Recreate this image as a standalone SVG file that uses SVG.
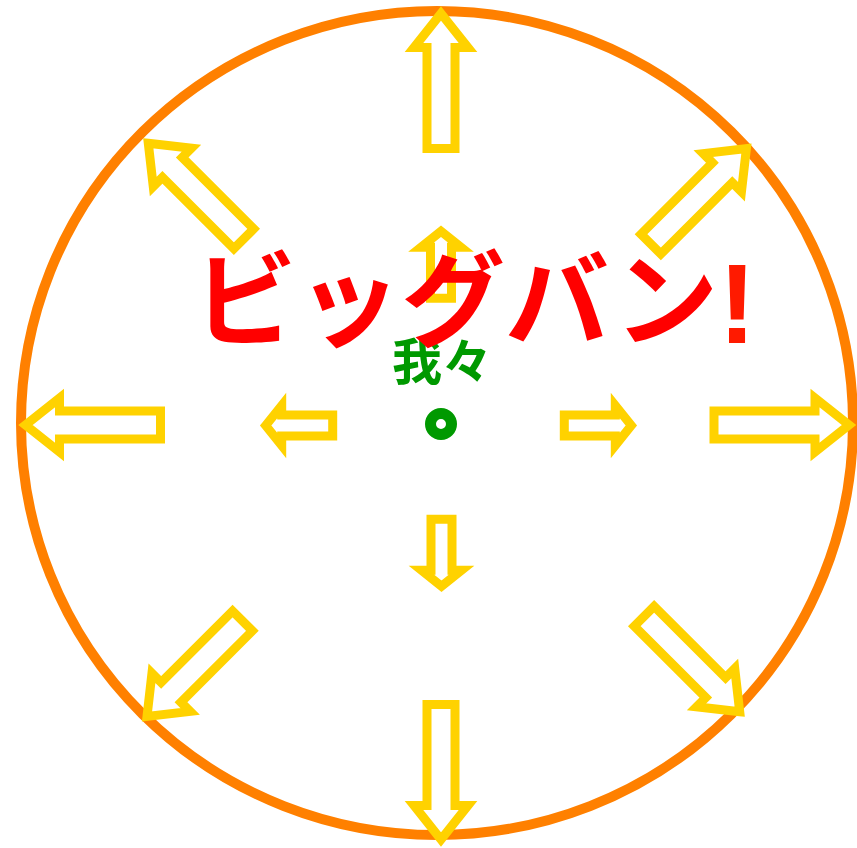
<svg xmlns="http://www.w3.org/2000/svg" xmlns:xlink="http://www.w3.org/1999/xlink" width="857" height="848" viewBox="0 0 857 848">
<style>
.arrow{fill:#ffffff;stroke:#ffd200;stroke-width:9;stroke-linejoin:miter;stroke-miterlimit:10}
.ring{fill:none;stroke:#ff8000;stroke-width:10}
.big{font-family:"Noto Sans CJK JP","Noto Sans",sans-serif;font-weight:bold;font-size:104px;fill:#ff0000}
.bang{font-family:"Liberation Sans",Arial,sans-serif;font-weight:bold;font-size:114px;fill:#ff1a00}
.we{font-family:"Noto Sans CJK JP","Noto Sans",sans-serif;font-weight:bold;font-size:50px;fill:#009900}
</style>
<defs>
<path id="outerArrow" d="M0,0 L27,34 L14,34 L14,135 L-14,135 L-14,34 L-27,34 Z"/>
<path id="innerArrow" d="M0,0 L20,16 L10.5,16 L10.5,67 L-10.5,67 L-10.5,16 L-20,16 Z"/>
</defs>
<rect width="857" height="848" fill="#ffffff"/>
<g id="universe">
<ellipse class="ring" cx="437" cy="423" rx="416" ry="412"/>
</g>
<g id="arrows">
<use xlink:href="#outerArrow" class="arrow" transform="translate(441,13.5)"/>
<use xlink:href="#outerArrow" class="arrow" transform="translate(441,839.5) rotate(180)"/>
<use xlink:href="#outerArrow" class="arrow" transform="translate(25.5,425) rotate(-90)"/>
<use xlink:href="#outerArrow" class="arrow" transform="translate(849,425) rotate(90)"/>
<use xlink:href="#outerArrow" class="arrow" transform="translate(148.3,143.3) rotate(-45)"/>
<use xlink:href="#outerArrow" class="arrow" transform="translate(746.4,148.6) rotate(45)"/>
<use xlink:href="#outerArrow" class="arrow" transform="translate(147,716.4) rotate(-135)"/>
<use xlink:href="#outerArrow" class="arrow" transform="translate(739.7,711.7) rotate(135)"/>
<use xlink:href="#innerArrow" class="arrow" transform="translate(441,231.3)"/>
<use xlink:href="#innerArrow" class="arrow" transform="translate(441.5,586.3) rotate(180)"/>
<use xlink:href="#innerArrow" class="arrow" transform="translate(265.7,425.5) rotate(-90)"/>
<use xlink:href="#innerArrow" class="arrow" transform="translate(631.3,425.5) rotate(90)"/>
</g>
<g id="us">
<circle cx="441" cy="424" r="10.5" fill="none" stroke="#009900" stroke-width="11"/>
<text class="we" x="392" y="380">我々</text>
</g>
<g id="title">
<text class="big" x="193" y="339">ビッグバン<tspan class="bang" dx="0" y="343">!</tspan></text>
</g>
</svg>
